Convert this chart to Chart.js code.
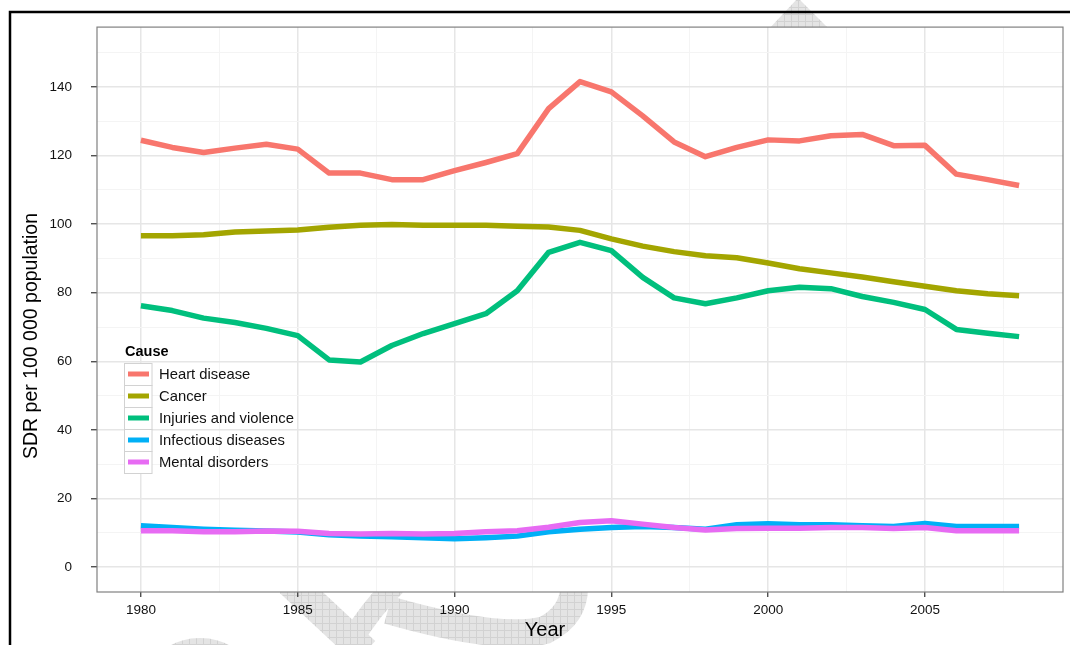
<!DOCTYPE html>
<html>
<head>
<meta charset="utf-8">
<script src="https://cdn.jsdelivr.net/npm/chart.js@4/dist/chart.umd.min.js"></script>
<style>
  html, body { margin: 0; padding: 0; background: #fff; }
  #wrap { width: 1070px; height: 645px; position: relative; }
</style>
</head>
<body>
<div id="wrap"><canvas id="sdrChart"></canvas></div>
<script>
const years = [1980, 1981, 1982, 1983, 1984, 1985, 1986, 1987, 1988, 1989,
  1990, 1991, 1992, 1993, 1994, 1995, 1996, 1997, 1998, 1999,
  2000, 2001, 2002, 2003, 2004, 2005, 2006, 2007, 2008];

const causes = ['Heart disease', 'Cancer', 'Injuries and violence', 'Infectious diseases', 'Mental disorders'];
const colors = ['#F8766D', '#A3A500', '#00BF7D', '#00B0F6', '#E76BF3'];

const heartDisease = [124.5, 122.4, 120.9, 122.2, 123.3, 121.9, 114.9, 114.9, 113.0, 113.0,
  115.6, 118.0, 120.6, 133.7, 141.6, 138.6, 131.6, 124.0, 119.7, 122.4,
  124.6, 124.3, 125.8, 126.2, 122.9, 123.0, 114.6, 113.0, 111.3];
const cancer = [96.6, 96.6, 96.9, 97.7, 98.0, 98.3, 99.1, 99.7, 99.9, 99.7,
  99.7, 99.7, 99.4, 99.2, 98.2, 95.7, 93.6, 92.0, 90.8, 90.2,
  88.7, 87.0, 85.8, 84.6, 83.2, 81.9, 80.6, 79.7, 79.1];
const injuries = [76.2, 74.8, 72.6, 71.3, 69.6, 67.5, 60.4, 59.8, 64.6, 68.1,
  71.0, 73.9, 80.6, 91.8, 94.7, 92.3, 84.5, 78.5, 76.8, 78.5,
  80.6, 81.6, 81.2, 78.9, 77.2, 75.1, 69.3, 68.2, 67.2];
const infectious = [12.0, 11.5, 11.0, 10.7, 10.5, 10.2, 9.4, 9.0, 8.8, 8.5,
  8.2, 8.5, 9.0, 10.3, 11.0, 11.5, 11.8, 11.5, 11.0, 12.3,
  12.6, 12.3, 12.3, 12.0, 11.8, 12.7, 11.8, 11.8, 11.8];
const mental = [10.6, 10.6, 10.3, 10.3, 10.5, 10.4, 9.8, 9.6, 9.8, 9.6,
  9.8, 10.3, 10.6, 11.6, 13.0, 13.5, 12.5, 11.5, 10.8, 11.2,
  11.3, 11.3, 11.5, 11.5, 11.2, 11.5, 10.6, 10.6, 10.6];

const xTicks = [1980, 1982.5, 1985, 1987.5, 1990, 1992.5, 1995, 1997.5, 2000, 2002.5, 2005, 2007.5];
const yTicks = [0, 10, 20, 30, 40, 50, 60, 70, 80, 90, 100, 110, 120, 130, 140, 150];

const series = [heartDisease, cancer, injuries, infectious, mental];
const FONT = '"Liberation Sans", Arial, Helvetica, sans-serif';

function isMajorX(v) { return v % 5 === 0; }
function isMajorY(v) { return v % 20 === 0; }

// crosshatched grey pattern for the background watermark
function hatch(ctx) {
  const c = document.createElement('canvas');
  c.width = 7; c.height = 7;
  const p = c.getContext('2d');
  p.fillStyle = '#e4e4e4';
  p.fillRect(0, 0, 7, 7);
  p.fillStyle = '#d2d2d2';
  p.fillRect(0, 0, 7, 1);
  p.fillRect(0, 0, 1, 7);
  return ctx.createPattern(c, 'repeat');
}

const backdrop = {
  id: 'backdrop',
  beforeDraw(chart) {
    const { ctx, chartArea: a } = chart;
    ctx.save();
    ctx.fillStyle = '#fff';
    ctx.fillRect(0, 0, chart.width, chart.height);

    const pat = hatch(ctx);
    ctx.fillStyle = pat;
    ctx.strokeStyle = pat;
    ctx.beginPath();
    ctx.moveTo(798, -2); ctx.lineTo(768, 30); ctx.lineTo(830, 30);
    ctx.closePath(); ctx.fill();

    ctx.lineCap = 'butt';
    ctx.lineWidth = 30;
    ctx.beginPath(); ctx.moveTo(290, 582); ctx.lineTo(365, 652); ctx.stroke();
    ctx.lineWidth = 22;
    ctx.beginPath(); ctx.moveTo(395, 585); ctx.quadraticCurveTo(370, 610, 352, 640); ctx.stroke();
    ctx.lineWidth = 28;
    ctx.beginPath();
    ctx.moveTo(388, 610);
    ctx.quadraticCurveTo(500, 642, 545, 630);
    ctx.quadraticCurveTo(575, 615, 574, 585);
    ctx.stroke();
    ctx.beginPath(); ctx.ellipse(200, 670, 46, 32, 0, 0, Math.PI * 2); ctx.fill();

    // outer frame
    ctx.strokeStyle = '#000';
    ctx.lineWidth = 2.5;
    ctx.beginPath();
    ctx.moveTo(1072, 12); ctx.lineTo(10, 12); ctx.lineTo(10, 650);
    ctx.stroke();

    ctx.fillStyle = '#fff';
    ctx.fillRect(a.left, a.top, a.right - a.left, a.bottom - a.top);
    ctx.restore();
  },
  afterDraw(chart) {
    const { ctx, chartArea: a } = chart;
    ctx.save();
    ctx.strokeStyle = '#808080';
    ctx.lineWidth = 1.2;
    ctx.strokeRect(a.left, a.top, a.right - a.left, a.bottom - a.top);

    // axis titles
    ctx.fillStyle = '#000';
    ctx.font = '20px ' + FONT;
    ctx.textAlign = 'center';
    ctx.textBaseline = 'middle';
    ctx.fillText('Year', 545, 630);
    ctx.translate(32, 336);
    ctx.rotate(-Math.PI / 2);
    ctx.font = '19.5px ' + FONT;
    ctx.fillText('SDR per 100 000 population', 0, 0);
    ctx.restore();

    // legend inside the panel
    ctx.save();
    ctx.textAlign = 'left';
    ctx.textBaseline = 'middle';
    ctx.fillStyle = '#000';
    ctx.font = 'bold 14.5px ' + FONT;
    ctx.fillText('Cause', 125, 352);
    ctx.font = '14.8px ' + FONT;
    causes.forEach((name, i) => {
      const top = 363 + i * 22;
      ctx.fillStyle = '#fff';
      ctx.fillRect(124.5, top, 27.5, 22);
      ctx.strokeStyle = '#d2d2d2';
      ctx.lineWidth = 1;
      ctx.strokeRect(124.5, top + 0.5, 27.5, 22);
      ctx.strokeStyle = colors[i];
      ctx.lineWidth = 5;
      ctx.beginPath();
      ctx.moveTo(128, top + 11);
      ctx.lineTo(149, top + 11);
      ctx.stroke();
      ctx.fillStyle = '#111';
      ctx.fillText(name, 159, top + 11.5);
    });
    ctx.restore();
  }
};

new Chart(document.getElementById('sdrChart'), {
  type: 'line',
  data: {
    datasets: causes.map((name, i) => ({
      label: name,
      data: years.map((yr, j) => ({ x: yr, y: series[i][j] })),
      borderColor: colors[i],
      backgroundColor: colors[i],
      borderWidth: 5.5,
      pointRadius: 0,
      tension: 0,
      borderJoinStyle: 'round',
      order: causes.length - i,
    })),
  },
  options: {
    responsive: true,
    maintainAspectRatio: false,
    animation: false,
    layout: { padding: { top: 27, right: 7, bottom: 0, left: 0 } },
    plugins: {
      legend: { display: false },
      tooltip: { enabled: false },
    },
    scales: {
      x: {
        type: 'linear',
        min: 1978.6,
        max: 2009.4,
        afterBuildTicks: (s) => { s.ticks = xTicks.map(v => ({ value: v })); },
        afterFit: (s) => { s.height = 53; },
        border: { display: false },
        grid: {
          color: (c) => isMajorX(c.tick.value) ? '#e6e6e6' : '#f4f4f4',
          lineWidth: (c) => isMajorX(c.tick.value) ? 1.5 : 1,
          tickColor: (c) => isMajorX(c.tick.value) ? '#333' : 'rgba(0,0,0,0)',
          tickLength: 5,
          tickWidth: 1.2,
        },
        ticks: {
          autoSkip: false,
          maxRotation: 0,
          padding: 5,
          color: '#111',
          font: { family: FONT, size: 13.5 },
          callback: (v) => isMajorX(v) ? String(v) : '',
        },
      },
      y: {
        min: -7.3,
        max: 157.5,
        afterBuildTicks: (s) => { s.ticks = yTicks.map(v => ({ value: v })); },
        afterFit: (s) => { s.width = 97; },
        border: { display: false },
        grid: {
          color: (c) => isMajorY(c.tick.value) ? '#e6e6e6' : '#f4f4f4',
          lineWidth: (c) => isMajorY(c.tick.value) ? 1.5 : 1,
          tickColor: (c) => isMajorY(c.tick.value) ? '#333' : 'rgba(0,0,0,0)',
          tickLength: 6,
          tickWidth: 1.2,
        },
        ticks: {
          autoSkip: false,
          padding: 19,
          color: '#111',
          font: { family: FONT, size: 13.5 },
          callback: (v) => isMajorY(v) ? String(v) : '',
        },
      },
    },
  },
  plugins: [backdrop],
});
</script>
</body>
</html>
